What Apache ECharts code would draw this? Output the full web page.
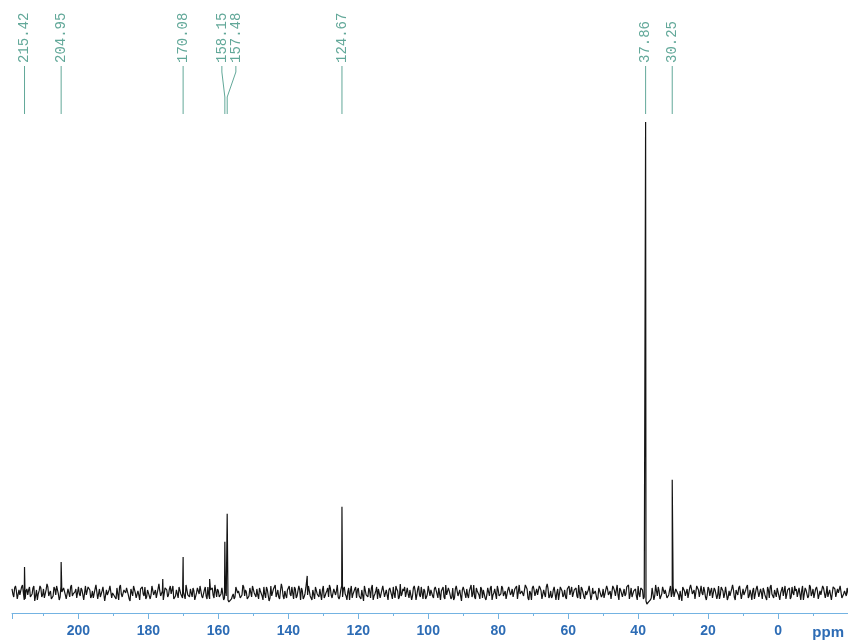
<!DOCTYPE html>
<html>
<head>
<meta charset="utf-8">
<script src="https://cdn.jsdelivr.net/npm/echarts@6/dist/echarts.min.js"></script>
<style>
html,body{margin:0;padding:0;background:#fff;}
#chart{width:848px;height:643px;}
</style>
</head>
<body>
<div id="chart"></div>
<script>
// ---- data ----
// peak positions (ppm) and heights (intensity units above baseline)
var peakPpm    = [215.42, 204.95, 175.9, 170.08, 162.5, 158.15, 157.48, 134.6, 124.67, 37.86, 30.25];
var peakHeight = [25,     30,     13,    35,     13,    50,     78,     16,    85,     469,   112];
// annotated peaks at the top
var labelPpm  = [215.42, 204.95, 170.08, 158.15, 157.48, 124.67, 37.86, 30.25];
var labelAt   = [215.42, 204.95, 170.08, 159.0,  155.0,  124.67, 37.86, 30.25];
var labelText = ["215.42","204.95","170.08","158.15","157.48","124.67","37.86","30.25"];
// baseline noise, two interleaved traces sampled every 0.5 ppm
var ppmStart = 219, ppmStep = 0.5, ppmOffset2 = 0.25;
var noise = [
 3,-5,6,-7,2,-4,7,-8,1,-3,5,-6,4,-9,2,-2,6,-5,3,-7,8,-4,1,-6,5,-3,2,-8,6,-1,4,-7,3,-5,7,-2,0,-6,5,-4,
 2,-8,6,-3,4,-6,1,-5,7,-7,3,-2,5,-9,2,-4,6,-6,0,-3,4,-8,7,-5,2,-1,5,-7,3,-4,6,-6,1,-8,4,-2,5,-5,3,-7,
 6,-3,2,-6,8,-4,1,-7,4,-5,3,-2,6,-8,2,-6,5,-3,0,-7,7,-4,3,-5,1,-9,4,-2,6,-6,2,-4,5,-7,3,-3,7,-5,1,-6,
 4,-8,2,-3,-10,-9,-4,-7,5,-1,2,-6,7,-4,0,-8,4,-5,6,-2,3,-7,1,-4,5,-6,2,-9,6,-3,4,-5,2,-7,8,-4,1,-6,3,-2,
 5,-7,3,-4,6,-8,1,-5,4,-3,7,-6,2,-7,5,-2,3,-8,6,-4,1,-5,4,-6,3,-3,7,-7,2,-5,5,-4,0,-8,6,-2,3,-6,4,-5,
 2,-9,5,-3,4,-6,7,-4,1,-7,3,-2,6,-5,2,-8,4,-3,5,-6,3,-7,8,-2,1,-5,4,-6,2,-4,6,-8,3,-3,5,-7,1,-5,6,-4,
 3,-6,5,-2,4,-8,2,-5,7,-3,1,-7,4,-6,6,-4,2,-9,5,-2,3,-6,4,-5,7,-7,1,-3,5,-6,2,-8,4,-4,6,-3,3,-7,2,-5,
 6,-4,1,-8,5,-3,3,-6,4,-7,7,-2,2,-5,5,-6,1,-8,6,-4,3,-3,4,-7,2,-5,8,-6,1,-4,5,-8,3,-2,6,-5,2,-7,4,-3,
 5,-6,2,-4,7,-7,3,-5,1,-3,6,-8,4,-2,2,-6,5,-5,3,-7,6,-3,1,-6,4,-4,7,-8,2,-5,3,-2,5,-7,4,-6,1,-4,6,-5,
 3,-7,-4,-12,-10,-8,4,-8,7,-4,1,-6,5,-2,3,-7,2,-5,6,-6,4,-3,1,-9,5,-4,3,-6,7,-2,2,-7,4,-5,6,-3,1,-8,5,-4,
 4,-5,2,-7,6,-3,3,-6,5,-8,1,-4,7,-5,2,-3,6,-7,3,-4,5,-6,2,-8,4,-2,6,-5,3,-7,1,-4,5,-6,7,-3,2,-5,4,-8,
 2,-4,6,-6,3,-7,5,-3,1,-5,4,-8,6,-2,2,-6,7,-4,3,-5,5,-7,1,-3,4,-6,6,-4,2,-8,5,-5,3,-2,7,-6,1,-4,4,-7
];
var noise2 = [
 -2,4,1,-6,-3,5,-1,-7,3,2,-5,-2,6,-4,-8,1,4,-3,-6,2,5,-1,-7,-4,3,6,-2,-5,0,4,-3,-8,2,5,-4,-1,3,-6,-2,4,
 1,-7,-3,5,2,-4,-6,3,7,-2,-5,1,4,-8,-3,2,6,-1,-4,-7,3,5,-2,-6,1,4,-3,-9,2,6,-1,-5,-3,3,5,-4,-7,2,1,-3,
 5,-2,-6,3,1,-5,-8,4,2,-3,6,-1,-7,-4,3,5,-2,-6,1,7,-3,-5,2,4,-8,-1,3,6,-4,-2,5,-7,-3,2,4,-6,1,3,-5,-2,
 3,-6,-4,-8,-11,-7,-2,-5,4,1,-6,-3,5,2,-7,-4,3,6,-1,-5,-3,4,2,-8,-2,5,1,-6,-4,3,7,-2,-5,1,4,-7,-3,2,6,-4,
 -1,5,-6,-3,2,4,-7,-2,3,6,-4,-8,1,5,-2,-5,3,2,-6,-1,4,7,-3,-7,2,1,-5,-4,6,3,-2,-8,4,1,-6,-3,5,2,-4,-7,
 2,6,-3,-5,1,4,-8,-2,5,3,-6,-1,7,-4,-3,2,4,-7,-2,6,1,-5,-4,3,5,-6,-2,2,-8,4,1,-3,6,-5,-1,3,-7,-2,5,2,
 -4,3,6,-6,-2,1,5,-7,-3,4,2,-5,-8,3,6,-1,-4,2,5,-6,-3,1,7,-2,-5,4,-1,-7,3,2,-6,-3,5,4,-8,-1,2,6,-4,-2,
 4,-3,-7,2,5,-1,-5,3,6,-6,-2,1,-4,7,3,-8,-1,4,2,-5,-3,6,1,-7,-2,5,3,-4,-6,2,4,-1,-8,5,1,-3,-5,3,6,-2,
 -5,2,4,-6,-1,5,3,-7,-3,2,6,-4,-2,1,-8,4,5,-3,-6,2,3,-1,-7,6,1,-5,-3,4,2,-6,-4,5,7,-2,-5,1,3,-8,-2,4,
 2,-5,-9,-12,-9,-6,3,-4,1,5,-7,-2,4,2,-6,-3,6,-1,-5,3,2,-8,-4,5,1,-3,-6,4,3,-2,-7,6,2,-4,-1,5,-5,-3,3,1,
 -6,4,2,-3,-7,5,1,-2,6,-5,-4,3,2,-8,-1,4,5,-6,-3,2,7,-4,-2,1,-7,3,6,-5,-1,4,-3,-8,2,5,-2,-6,3,4,-4,-1,
 5,-3,-7,2,4,-5,-1,6,3,-6,-2,1,-8,4,2,-4,5,-1,-6,3,1,-7,-3,6,4,-2,-5,2,-8,5,3,-4,-1,6,-6,-2,2,4,-5,-3
];

// ---- build spectrum trace ----
var pts = [];
for (var i = 0; i < noise.length; i++) pts.push([ppmStart - i * ppmStep, noise[i]]);
for (var m = 0; m < noise2.length; m++) pts.push([ppmStart - ppmOffset2 - m * ppmStep, noise2[m]]);
for (var j = 0; j < peakPpm.length; j++) pts.push([peakPpm[j], peakHeight[j]]);
pts.sort(function (a, b) { return b[0] - a[0]; });

var annData = labelPpm.map(function (p, k) { return [p, labelAt[k]]; });

var teal = '#62a899';
var blue = '#2d6cb5';

var chart = echarts.init(document.getElementById('chart'), null, {renderer: 'canvas'});
chart.setOption({
  animation: false,
  backgroundColor: '#ffffff',
  grid: {left: 12, right: 0, top: 122, bottom: 30},
  xAxis: {
    type: 'value',
    inverse: true,
    min: -20,
    max: 219,
    interval: 20,
    axisLine: {show: true, onZero: false, lineStyle: {color: '#74b3e2', width: 1}},
    axisTick: {show: true, length: 6, lineStyle: {color: '#74b3e2'}},
    minorTick: {show: true, splitNumber: 2, length: 3, lineStyle: {color: '#74b3e2'}},
    splitLine: {show: false},
    axisLabel: {
      margin: 11,
      color: blue,
      showMaxLabel: false,
      showMinLabel: false,
      fontFamily: 'Liberation Sans, Arial, sans-serif',
      fontWeight: 'bold',
      fontSize: 14,
      formatter: function (v) { return (v % 20 !== 0 || v === -20) ? '' : String(v); }
    }
  },
  yAxis: {
    type: 'value', min: -21, max: 469, show: false,
    splitLine: {show: false}
  },
  graphic: [{
    type: 'text', right: 4, top: 625,
    style: {text: 'ppm', fill: blue, font: 'bold 15px "Liberation Sans", Arial, sans-serif'}
  }],
  series: [{
    type: 'line',
    data: pts,
    symbol: 'none',
    lineStyle: {color: '#141414', width: 1.2},
    silent: true
  }, {
    type: 'custom',
    coordinateSystem: 'cartesian2d',
    data: annData,
    clip: false,
    silent: true,
    renderItem: function (params, api) {
      var k = params.dataIndex;
      var xPeak = api.coord([api.value(0), 0])[0];
      var xAt = api.coord([api.value(1), 0])[0];
      return {
        type: 'group',
        children: [{
          type: 'text',
          x: xAt, y: 63,
          rotation: Math.PI / 2,
          style: {
            text: labelText[k],
            fill: teal,
            font: '14px "Liberation Mono", monospace',
            align: 'left',
            verticalAlign: 'middle'
          }
        }, {
          type: 'polyline',
          shape: {points: [[xAt, 66], [xAt, 72], [xPeak, 97], [xPeak, 114]]},
          style: {stroke: teal, lineWidth: 1, fill: null}
        }]
      };
    }
  }]
});
</script>
</body>
</html>
